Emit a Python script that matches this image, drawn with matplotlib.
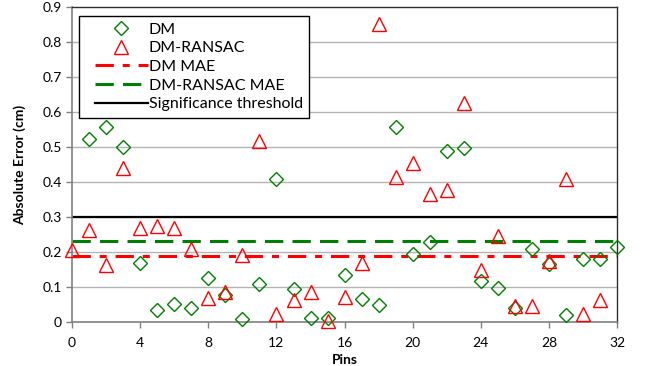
import matplotlib
matplotlib.use("Agg")
import matplotlib.pyplot as plt
from matplotlib.lines import Line2D
from matplotlib.legend_handler import HandlerLine2D

plt.rcParams['font.family'] = ['Lato', 'DejaVu Sans']

# pin indices and absolute errors (cm)
pins_dm = list(range(1, 33))
err_dm = [0.522, 0.556, 0.501, 0.170, 0.034, 0.053, 0.039, 0.125, 0.077, 0.009,
          0.108, 0.409, 0.094, 0.013, 0.012, 0.135, 0.065, 0.049, 0.556, 0.194,
          0.229, 0.489, 0.496, 0.118, 0.098, 0.041, 0.208, 0.166, 0.020, 0.181,
          0.181, 0.214]
pins_ransac = list(range(0, 32))
err_ransac = [0.207, 0.263, 0.163, 0.439, 0.268, 0.275, 0.268, 0.209, 0.069, 0.086,
              0.192, 0.517, 0.023, 0.062, 0.085, 0.003, 0.073, 0.168, 0.851, 0.415,
              0.455, 0.366, 0.377, 0.625, 0.148, 0.246, 0.046, 0.046, 0.174, 0.408,
              0.023, 0.063]
mae_dm = 0.190
mae_ransac = 0.231
threshold = 0.30

red_dash = (6, 2.9, 2.3, 2.9)
green_dash = (6, 3)

fig = plt.figure(figsize=(6.49, 3.66), dpi=100)
ax = fig.add_axes([0.111, 0.12, 0.840, 0.861])

for y in [0.1, 0.2, 0.3, 0.4, 0.5, 0.6, 0.7, 0.8]:
    ax.axhline(y, color='#b4b4b4', lw=1.0, zorder=0)

ax.axhline(threshold, color='black', lw=1.6, zorder=2)
ax.axhline(mae_ransac, color='green', lw=2.2, dashes=green_dash, zorder=2)
ax.axhline(mae_dm, color='red', lw=2.2, dashes=red_dash, zorder=2)

ax.plot(pins_dm, err_dm, linestyle='none', marker='D', markersize=7.3,
        markerfacecolor='none', markeredgecolor='green', markeredgewidth=1.0,
        clip_on=False, zorder=3)
ax.plot(pins_ransac, err_ransac, linestyle='none', marker='^', markersize=9.5,
        markerfacecolor='none', markeredgecolor='red', markeredgewidth=1.0,
        clip_on=False, zorder=3)

ax.set_xlim(0, 32)
ax.set_ylim(0, 0.9)
ax.set_xticks(range(0, 33, 4))
ax.set_yticks([0, 0.1, 0.2, 0.3, 0.4, 0.5, 0.6, 0.7, 0.8, 0.9])
ax.set_yticklabels(['0', '0.1', '0.2', '0.3', '0.4', '0.5', '0.6', '0.7', '0.8', '0.9'])
ax.tick_params(axis='both', labelsize=10, color='#808080', length=4, width=1)
ax.tick_params(axis='x', pad=7)

for side in ['left', 'bottom']:
    ax.spines[side].set_color('#808080')
    ax.spines[side].set_linewidth(1.2)
for side in ['top', 'right']:
    ax.spines[side].set_color('#303030')
    ax.spines[side].set_linewidth(1.0)

ax.set_xlabel('Pins', fontsize=10, fontweight='bold', labelpad=3)
ax.set_ylabel('Absolute Error (cm)', fontsize=10, fontweight='bold', labelpad=12)

handles = [
    Line2D([], [], linestyle='none', marker='D', markersize=7.3,
           markerfacecolor='none', markeredgecolor='green'),
    Line2D([], [], linestyle='none', marker='^', markersize=9.5,
           markerfacecolor='none', markeredgecolor='red'),
    Line2D([], [], color='red', lw=2.2, dashes=red_dash),
    Line2D([], [], color='green', lw=2.2, dashes=green_dash),
    Line2D([], [], color='black', lw=1.6),
]
labels = ['DM', 'DM-RANSAC', 'DM MAE', 'DM-RANSAC MAE', 'Significance threshold']
leg = ax.legend(handles, labels, loc='upper left', bbox_to_anchor=(0.013, 0.971),
                fontsize=11.5, frameon=True, fancybox=False, edgecolor='black',
                framealpha=1, handlelength=3.9, handletextpad=0.05,
                labelspacing=0.28, borderpad=0.4, borderaxespad=0,
                handler_map={Line2D: HandlerLine2D(xpad=0.6)})
leg.get_frame().set_linewidth(1.0)

fig.savefig('out.png', dpi=100)
